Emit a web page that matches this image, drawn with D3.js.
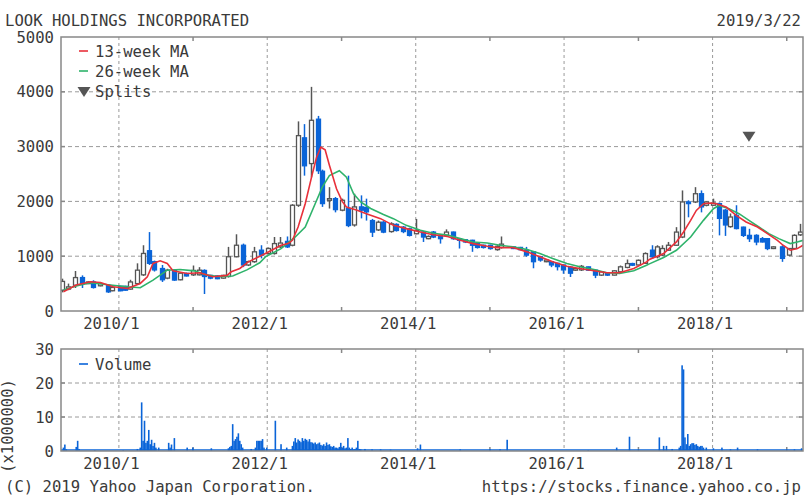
<!DOCTYPE html>
<html><head><meta charset="utf-8">
<script src="https://cdn.jsdelivr.net/npm/d3@7"></script>
<style>
body{margin:0;background:#fff}
text{font-family:"DejaVu Sans Mono",monospace;fill:#3a3a3a;font-size:15.6px}
</style>
</head><body><svg id="c" width="810" height="504"></svg>
<script>
// ---------- DATA ----------
const title = "LOOK HOLDINGS INCORPORATED";
const dateLabel = "2019/3/22";
const firstWeek = new Date(2009, 2, 27);           // week index 0
const priceTicks = [0, 1000, 2000, 3000, 4000, 5000];
const volumeTicks = [0, 10, 20, 30];
const majorYears = [2010, 2012, 2014, 2016, 2018];
const minorYears = [2011, 2013, 2015, 2017, 2019];

const candleWeeks = [0,4,9,14,18,22,27,32,35,41, 44,48,53,57,61,65,70,74,79,83, 87,92,96,100,104,109,113,117,122,127,
 131,135,140,145,149,153,158,162,166,170, 175,180,183,188,192,197,201,205,210,214, 218,222,226,231,235,240,244,249,254,257,
 261,266,270,275,279,283,288,292,296,301, 306,309,317,322,326,331,336,340,344,348, 352,357,361,365,370,375,379,383,388,392,
 397,401,405,410,415,418,422,426,432,436, 440,445,449,453,458,462,466,470,474,479, 483,488,492,496,500,506,511,515,519];
const candleOpen = [380,400,470,610,500,530,460,470,370,450, 450,400,500,660,1100,900,775,600,745,570, 685,660,660,740,650,640,600,630,990,1200,
 840,900,1110,1050,1050,1170,1270,1200,1930,3160, 2690,3500,2550,2020,2050,1840,1870,1570,1900,1890, 1650,1480,1620,1450,1580,1530,1500,1410,1440,1320,
 1440,1380,1380,1440,1320,1300,1290,1230,1200,1200, 1120,1160,1170,1160,1110,1080,990,900,900,870, 840,800,745,750,805,745,655,697,655,715,
 795,865,840,870,1110,990,1020,1110,1200,1350, 1990,1990,2140,1930,1930,1960,1840,1540,1745,1530, 1380,1380,1320,1320,1140,1170,1020,1140,1390];
const candleHigh = [590,500,730,650,540,560,520,490,450,460, 460,570,870,1200,1440,920,840,770,760,710, 700,830,800,760,660,650,660,1170,1400,1230,
 920,1170,1200,1160,1350,1350,1360,1950,3460,3410, 4090,3560,2580,2260,2080,2050,2470,2140,2110,2050, 1680,1650,1640,1620,1600,1550,1520,1680,1460,1380,
 1460,1400,1490,1450,1330,1310,1300,1240,1210,1210, 1200,1360,1180,1170,1170,1090,1000,940,910,880, 850,820,790,840,810,760,730,710,745,830,
 940,880,940,1070,1200,1200,1200,1260,1530,2200, 2020,2260,2200,2000,2050,1980,1860,1780,1930,1540, 1500,1400,1350,1330,1180,1200,1150,1400,1590];
const candleLow = [340,380,420,420,490,410,450,330,360,360, 370,390,480,640,840,720,530,580,550,560, 630,640,650,310,580,580,590,610,980,800,
 820,880,960,1030,1030,1150,1150,1180,1900,2470, 2440,2500,1900,1870,1800,1820,1530,1540,1690,1650, 1350,1460,1420,1430,1450,1420,1360,1400,1260,1310,
 1330,1230,1370,1300,1140,1240,1080,1140,1140,1120, 1100,1140,1130,1110,990,780,900,890,800,740, 680,620,730,730,730,600,640,640,650,700,
 780,820,830,860,950,960,1000,1100,1190,1330, 1710,1970,1800,1910,1920,1380,1370,1520,1490,1350, 1260,1200,1250,1110,1130,897,1000,1130,1370];
const candleClose = [540,440,610,500,530,430,500,350,430,370, 380,530,745,1050,870,750,570,745,565,690, 640,740,745,630,600,590,650,990,1200,840,
 900,1080,1020,1140,1230,1240,1170,1930,3200,2650, 3480,2560,1960,2050,1850,2020,1560,1900,1840,1810, 1440,1620,1440,1590,1470,1450,1380,1470,1350,1360,
 1350,1320,1440,1320,1290,1260,1200,1160,1160,1140, 1180,1220,1140,1120,1020,900,930,930,840,810, 750,690,775,815,745,655,715,655,733,806,
 865,836,925,1048,990,1170,1140,1200,1440,1990, 1960,2140,1900,1990,1970,1690,1570,1715,1505,1380, 1320,1260,1260,1140,1170,960,1140,1380,1440];

const ma13Weeks = [1,10,20,27,36,46,55,60,64,69,74,78,88,97,106,116,119,125,131,143,154,159,162,166,171,176,179,182,185,188,193,197,200,207,214,224,233,242,252,261,271,280,289,299,306,317,327,336,345,355,364,374,383,392,402,411,413,423,432,437,442,446,451,456,460,467,474,481,489,496,503,507,512,517,521];
const ma13Values = [351,473,533,520,442,412,503,624,867,915,867,733,685,697,624,650,715,776,897,1048,1200,1230,1290,1533,1957,2503,2806,2988,2940,2660,2230,2000,1897,1843,1776,1685,1563,1503,1442,1390,1360,1291,1230,1182,1157,1157,1079,988,897,818,776,733,697,697,776,897,940,1048,1260,1442,1654,1836,1957,1970,1957,1897,1745,1624,1533,1412,1290,1200,1109,1139,1200];
const ma26Weeks = [1,10,20,34,46,55,64,74,83,93,102,111,120,130,139,143,154,164,171,178,183,188,195,200,205,210,217,226,233,242,252,261,271,280,289,299,308,317,327,336,345,355,364,374,383,392,402,411,413,423,432,442,451,458,462,469,476,483,490,497,504,512,517,521];
const ma26Values = [382,455,515,473,442,424,564,745,757,733,654,624,640,750,880,988,1139,1351,1533,1957,2260,2472,2561,2442,2139,1990,1870,1760,1685,1563,1473,1420,1385,1321,1260,1242,1200,1170,1121,1048,957,867,806,757,697,685,733,836,860,976,1109,1351,1654,1866,1927,1866,1776,1654,1533,1412,1321,1230,1260,1290];

const splitWeeks = [483];
const splitMarkPrice = [3180];

const volWeeks = [1,2,3,10,11,12,23,43,53,55,56,57,58,59,60,61,62,63,64,65,66,68,75,76,77,79,88,92,105,
 117,118,119,120,121,122,123,124,125,126,127,133,136,137,138,139,140,141,142,144,150,154,158,
 162,163,164,165,166,167,168,169,170,171,172,173,174,175,176,177,178,179,180,181,182,183,184,185,186,187,188,189,190,
 191,192,193,194,195,196,197,198,199,200,201,202,203,204,205,206,207,208,209,210,
 213,218,224,231,250,252,280,301,308,313,370,390,399,420,423,425,429,
 434,435,436,437,438,439,440,441,442,443,444,445,446,447,448,449,450,451,453,458,464,470,475,489,515,520];
const volValues = [1.0,1.9,0.5,1.2,3.0,0.6,0.3,0.3,0.6,1.0,14.3,3.0,8.9,2.4,3.0,6.2,2.0,3.3,1.5,2.4,1.0,1.0,2.4,1.0,1.9,3.8,1.0,1.0,0.8,
 0.8,1.2,1.5,7.9,3.0,3.5,4.2,5.2,3.0,2.0,1.0,0.6,1.0,3.0,3.0,3.0,3.0,3.5,1.0,1.0,8.9,2.0,1.0,
 1.5,2.8,3.8,2.5,3.4,3.0,2.6,3.8,3.0,3.6,3.3,2.8,3.5,2.6,2.5,2.2,2.5,2.0,2.2,2.5,1.8,1.6,2.0,1.5,2.5,1.8,2.0,1.4,1.2,
 1.5,1.0,1.0,0.8,1.2,2.4,1.0,1.5,0.8,1.0,3.8,1.0,0.6,1.0,0.5,0.6,1.0,3.0,0.6,0.5,
 0.6,0.5,0.5,0.4,0.8,1.9,0.5,0.5,0.5,3.3,0.3,1.0,4.2,4.0,1.5,1.5,0.6,
 1.0,1.5,25.2,24.0,4.0,2.0,5.0,1.5,2.0,2.3,2.3,1.8,2.0,1.5,1.2,1.5,1.5,1.0,1.0,0.8,1.0,0.5,1.0,0.5,0.5,0.8];

// ---------- STYLE ----------
const BLUE = "#0a64d8", RED = "#e8303a", GREEN = "#2fb36b", DARK = "#555", GRID = "#9a9a9a", FRAME = "#888";

// ---------- SCALES ----------
const svg = d3.select("#c");
const L = 61, R = 803;
const x = d3.scaleTime().domain([new Date(2009, 2, 22), new Date(2019, 2, 22)]).range([L, R]);
const yP = d3.scaleLinear().domain([0, 5000]).range([311, 37]);
const yV = d3.scaleLinear().domain([0, 30]).range([451, 349]);
const wd = w => d3.timeDay.offset(firstWeek, 7 * w);
const yearDate = y => new Date(y, 0, 1);

svg.append("defs").append("clipPath").attr("id", "clipP")
  .append("rect").attr("x", L).attr("y", yP(5000)).attr("width", R - L).attr("height", yP(0) - yP(5000));

// ---------- TEXTS ----------
svg.append("text").attr("x", 5).attr("y", 26).text(title);
svg.append("text").attr("x", 801).attr("y", 26).attr("text-anchor", "end").text(dateLabel);
svg.append("text").attr("x", 5).attr("y", 492).text("(C) 2019 Yahoo Japan Corporation.");
svg.append("text").attr("x", 801).attr("y", 492).attr("text-anchor", "end").text("https://stocks.finance.yahoo.co.jp");

function panel(yScale, ticks) {
  const top = yScale.range()[1], bot = yScale.range()[0];
  const g = svg.append("g");
  g.selectAll(".hg").data(ticks.slice(1, -1)).join("line")
    .attr("x1", L).attr("x2", R).attr("y1", d => yScale(d)).attr("y2", d => yScale(d))
    .attr("stroke", GRID).attr("stroke-dasharray", "4,3");
  g.selectAll(".vg").data(majorYears).join("line")
    .attr("x1", d => x(yearDate(d))).attr("x2", d => x(yearDate(d)))
    .attr("y1", top).attr("y2", bot)
    .attr("stroke", GRID).attr("stroke-dasharray", "3,3");
  minorYears.forEach(yr => {
    const xx = x(yearDate(yr));
    g.append("line").attr("x1", xx).attr("x2", xx).attr("y1", top).attr("y2", top + 4).attr("stroke", FRAME).attr("stroke-width", 1.5);
    g.append("line").attr("x1", xx).attr("x2", xx).attr("y1", bot - 4).attr("y2", bot).attr("stroke", FRAME).attr("stroke-width", 1.5);
  });
  ticks.slice(1, -1).forEach(t => {
    g.append("line").attr("x1", R - 4).attr("x2", R).attr("y1", yScale(t)).attr("y2", yScale(t)).attr("stroke", FRAME).attr("stroke-width", 1.5);
    g.append("line").attr("x1", L).attr("x2", L + 4).attr("y1", yScale(t)).attr("y2", yScale(t)).attr("stroke", FRAME).attr("stroke-width", 1.5);
  });
  const ya = svg.append("g").attr("transform", `translate(${L},0)`)
    .call(d3.axisLeft(yScale).tickValues(ticks).tickSize(0).tickPadding(7).tickFormat(d3.format("d")));
  ya.select(".domain").remove();
  ya.selectAll("text").attr("font-family", null).attr("font-size", null).attr("fill", "#3a3a3a");
  const xa = svg.append("g").attr("transform", `translate(-8,${bot})`)
    .call(d3.axisBottom(x).tickValues(majorYears.map(yearDate)).tickSize(0).tickPadding(7).tickFormat(d3.timeFormat("%Y/%-m")));
  xa.select(".domain").remove();
  xa.selectAll("text").attr("font-family", null).attr("font-size", null).attr("fill", "#3a3a3a").attr("dy", "0.72em");
  return g;
}

// ---------- PRICE PANEL ----------
panel(yP, priceTicks);
const candles = candleWeeks.map((w, i) => ({ d: wd(w), o: candleOpen[i], h: candleHigh[i], l: candleLow[i], c: candleClose[i] }));
const cg = svg.append("g").attr("clip-path", "url(#clipP)");
const cw = 4;
const cs = cg.selectAll("g.c").data(candles).join("g");
cs.append("line")
  .attr("x1", d => Math.round(x(d.d)) + 0.5).attr("x2", d => Math.round(x(d.d)) + 0.5)
  .attr("y1", d => yP(d.h)).attr("y2", d => yP(d.l))
  .attr("stroke", d => d.c >= d.o ? DARK : BLUE).attr("stroke-width", 1.5);
cs.append("rect")
  .attr("x", d => Math.round(x(d.d)) + 0.5 - cw / 2)
  .attr("y", d => yP(Math.max(d.o, d.c)))
  .attr("width", cw)
  .attr("height", d => Math.max(1.5, yP(Math.min(d.o, d.c)) - yP(Math.max(d.o, d.c))))
  .attr("fill", d => d.c >= d.o ? "#fff" : BLUE)
  .attr("stroke", d => d.c >= d.o ? DARK : BLUE).attr("stroke-width", 1.3);

const maLine = d3.line().x(d => x(d[0])).y(d => yP(d[1]));
cg.append("path").datum(ma26Weeks.map((w, i) => [wd(w), ma26Values[i]]))
  .attr("d", maLine).attr("fill", "none").attr("stroke", GREEN).attr("stroke-width", 1.6);
cg.append("path").datum(ma13Weeks.map((w, i) => [wd(w), ma13Values[i]]))
  .attr("d", maLine).attr("fill", "none").attr("stroke", RED).attr("stroke-width", 1.6);

const tri = (cx, cy) => `M${cx - 6.5},${cy - 5}L${cx + 6.5},${cy - 5}L${cx},${cy + 5}Z`;
splitWeeks.forEach((w, i) => {
  svg.append("path").attr("d", tri(x(wd(w)), yP(splitMarkPrice[i]))).attr("fill", DARK);
});

svg.append("rect").attr("x", L).attr("y", yP(5000)).attr("width", R - L).attr("height", yP(0) - yP(5000))
  .attr("fill", "none").attr("stroke", FRAME).attr("stroke-width", 1.5);

const lg = svg.append("g");
[[RED, "13-week MA", 51], [GREEN, "26-week MA", 71]].forEach(([col, t, yy]) => {
  lg.append("line").attr("x1", 79).attr("x2", 88).attr("y1", yy).attr("y2", yy).attr("stroke", col).attr("stroke-width", 1.6);
  lg.append("text").attr("x", 95).attr("y", yy + 5.5).text(t);
});
lg.append("path").attr("d", tri(84, 92)).attr("fill", DARK);
lg.append("text").attr("x", 95).attr("y", 96.5).text("Splits");

// ---------- VOLUME PANEL ----------
panel(yV, volumeTicks);
svg.append("g").selectAll("rect").data(volWeeks.map((w, i) => ({ d: wd(w), v: volValues[i] }))).join("rect")
  .attr("x", d => x(d.d) - 0.8).attr("width", 1.6)
  .attr("y", d => yV(d.v)).attr("height", d => yV(0) - yV(d.v))
  .attr("fill", BLUE);
svg.append("line").attr("x1", L).attr("x2", R).attr("y1", yV(0) - 1).attr("y2", yV(0) - 1).attr("stroke", BLUE).attr("stroke-width", 1.5);
svg.append("rect").attr("x", L).attr("y", yV(30)).attr("width", R - L).attr("height", yV(0) - yV(30))
  .attr("fill", "none").attr("stroke", FRAME).attr("stroke-width", 1.5);
svg.append("line").attr("x1", 79).attr("x2", 88).attr("y1", 364).attr("y2", 364).attr("stroke", BLUE).attr("stroke-width", 1.6);
svg.append("text").attr("x", 95).attr("y", 369.5).text("Volume");
svg.append("text").attr("transform", "translate(13,426) rotate(-90)").attr("text-anchor", "middle").text("(x1000000)");
</script>
</body></html>
